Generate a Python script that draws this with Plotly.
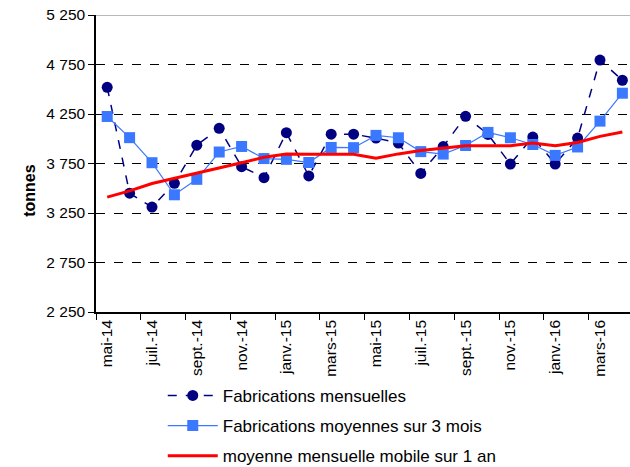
import plotly.graph_objects as go

months = ["mai-14", "juin-14", "juil.-14", "août-14", "sept.-14", "oct.-14",
          "nov.-14", "déc.-14", "janv.-15", "févr.-15", "mars-15", "avr.-15",
          "mai-15", "juin-15", "juil.-15", "août-15", "sept.-15", "oct.-15",
          "nov.-15", "déc.-15", "janv.-16", "févr.-16", "mars-16", "avr.-16"]

mensuelles = [4520, 3450, 3310, 3550, 3935, 4105, 3718, 3607, 4061, 3624,
              4046, 4046, 4007, 3956, 3650, 3921, 4227, 4044, 3745, 4017,
              3745, 4007, 4795, 4591]

moy3 = [4225, 4011, 3758, 3434, 3590, 3866, 3922, 3800, 3792, 3760,
        3912, 3910, 4034, 4010, 3870, 3845, 3932, 4064, 4010, 3942,
        3832, 3917, 4178, 4460]

moy12 = [3410, 3473, 3548, 3599, 3650, 3701, 3758, 3813, 3845, 3844,
         3844, 3844, 3803, 3847, 3881, 3905, 3929, 3929, 3929, 3956,
         3929, 3963, 4024, 4068]

yticks = [2250, 2750, 3250, 3750, 4250, 4750, 5250]

FONT = "Liberation Sans, Arial, sans-serif"

fig = go.Figure()
fig.add_trace(go.Scatter(
    x=months, y=mensuelles, name="Fabrications mensuelles", mode="lines+markers",
    line=dict(color="#000080", width=1.5, dash="dash"),
    marker=dict(symbol="circle", size=11, color="#000080"),
    legendgroup="a"))
fig.add_trace(go.Scatter(
    x=months, y=moy3, name="Fabrications moyennes sur 3 mois", mode="lines+markers",
    line=dict(color="#3a78ff", width=1.2),
    marker=dict(symbol="square", size=11, color="#3a78ff"),
    legendgroup="b"))
fig.add_trace(go.Scatter(
    x=months, y=moy12, name="moyenne mensuelle mobile sur 1 an", mode="lines",
    line=dict(color="#ff0000", width=3),
    legendgroup="c"))

fig.add_shape(type="line", xref="paper", yref="y", x0=0, x1=1, y0=5250, y1=5250,
              line=dict(color="#a0a0a0", width=1.5), layer="above")

fig.add_annotation(text="<b>tonnes</b>", xref="paper", yref="paper",
                   x=-0.144, y=0.41, textangle=-90, showarrow=False,
                   font=dict(size=16, family=FONT, color="black"))

fig.update_layout(
    width=630, height=467,
    margin=dict(l=96, r=0, t=15, b=155, autoexpand=False),
    paper_bgcolor="white", plot_bgcolor="white",
    separators=", ",
    font=dict(family=FONT, size=15, color="black"),
    showlegend=True,
    legend=dict(x=0.125, y=-0.222, xanchor="left", yanchor="top",
                font=dict(size=17, family=FONT), itemwidth=50,
                tracegroupgap=5, bgcolor="rgba(0,0,0,0)"),
    xaxis=dict(type="category", range=[-0.5, 23.34], tickmode="linear", tick0=0, dtick=2,
               tickson="boundaries", ticks="outside", ticklen=6, tickcolor="black",
               tickangle=-90, showline=True, linecolor="black", linewidth=1.5,
               showgrid=False, tickfont=dict(size=15.5), automargin=False),
    yaxis=dict(range=[2250, 5250], tickvals=yticks, tickformat=",d",
               ticks="outside", ticklen=6, tickcolor="black",
               showline=True, linecolor="black", linewidth=1.5,
               showgrid=True, gridcolor="black", griddash="dash", gridwidth=1,
               zeroline=False, tickfont=dict(size=15.5), automargin=False),
)

fig.write_html("out.html", config={"displayModeBar": False},
               post_script="document.body.style.margin='0';document.body.style.overflow='hidden';")
